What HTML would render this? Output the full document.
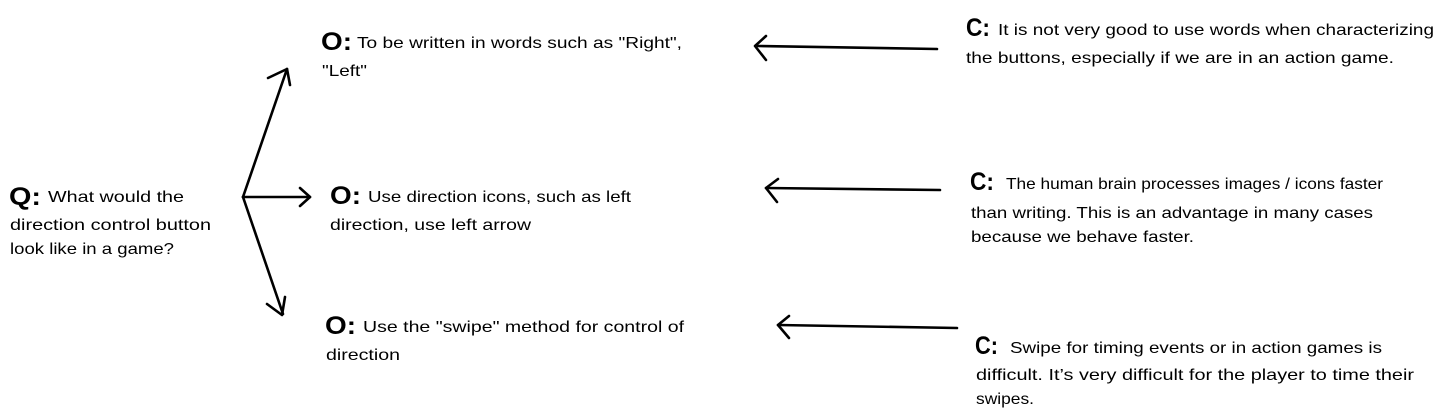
<!DOCTYPE html>
<html><head><meta charset="utf-8"><style>
html,body{margin:0;padding:0;background:#fff;}
svg{display:block}
text{font-family:"Liberation Sans",sans-serif;fill:#000;font-size:16px}
.b{font-weight:bold;font-size:25px}
.cb{font-weight:bold;font-size:25px}
</style></head><body>
<svg width="1439" height="418" viewBox="0 0 1439 418" xmlns="http://www.w3.org/2000/svg">
<g stroke="#000" stroke-width="2.6" fill="none" stroke-linecap="round" stroke-linejoin="round">
<line x1="243" y1="197" x2="287" y2="69"/>
<polyline points="268,78 287,69 290,85"/>
<line x1="243" y1="197" x2="310" y2="197"/>
<polyline points="300,188 310,197 300,206"/>
<line x1="243" y1="197" x2="283" y2="314"/>
<polyline points="267,304 282,315 285,297"/>
<line x1="937" y1="49" x2="758" y2="46"/>
<polyline points="766,36 755,46 766,60"/>
<line x1="940" y1="190" x2="766" y2="188"/>
<polyline points="778,179 766,188 777,202"/>
<line x1="957" y1="328" x2="778" y2="325"/>
<polyline points="789,316 778,325 789,338"/>
</g>
<text class="b" x="9" y="205" textLength="32" lengthAdjust="spacingAndGlyphs">Q:</text>
<text x="48" y="202" textLength="136" lengthAdjust="spacingAndGlyphs">What would the</text>
<text x="10" y="230" textLength="201" lengthAdjust="spacingAndGlyphs">direction control button</text>
<text x="10" y="254" textLength="164" lengthAdjust="spacingAndGlyphs">look like in a game?</text>

<text class="b" x="321" y="50" textLength="31" lengthAdjust="spacingAndGlyphs">O:</text>
<text x="357" y="48" textLength="325" lengthAdjust="spacingAndGlyphs">To be written in words such as "Right",</text>
<text x="322" y="76" textLength="45" lengthAdjust="spacingAndGlyphs">"Left"</text>

<text class="b" x="330" y="204" textLength="31" lengthAdjust="spacingAndGlyphs">O:</text>
<text x="368" y="202" textLength="263" lengthAdjust="spacingAndGlyphs">Use direction icons, such as left</text>
<text x="330" y="230" textLength="201" lengthAdjust="spacingAndGlyphs">direction, use left arrow</text>

<text class="b" x="325" y="334" textLength="31" lengthAdjust="spacingAndGlyphs">O:</text>
<text x="363" y="332" textLength="321" lengthAdjust="spacingAndGlyphs">Use the "swipe" method for control of</text>
<text x="326" y="360" textLength="74" lengthAdjust="spacingAndGlyphs">direction</text>

<text class="cb" x="966" y="36" textLength="24" lengthAdjust="spacingAndGlyphs">C:</text>
<text x="998" y="35" textLength="436" lengthAdjust="spacingAndGlyphs">It is not very good to use words when characterizing</text>
<text x="966" y="63" textLength="428" lengthAdjust="spacingAndGlyphs">the buttons, especially if we are in an action game.</text>

<text class="cb" x="970" y="190" textLength="24" lengthAdjust="spacingAndGlyphs">C:</text>
<text x="1006" y="189" textLength="377" lengthAdjust="spacingAndGlyphs">The human brain processes images / icons faster</text>
<text x="971" y="218" textLength="402" lengthAdjust="spacingAndGlyphs">than writing. This is an advantage in many cases</text>
<text x="971" y="242" textLength="223" lengthAdjust="spacingAndGlyphs">because we behave faster.</text>

<text class="cb" x="975" y="354" textLength="23" lengthAdjust="spacingAndGlyphs">C:</text>
<text x="1010" y="353" textLength="372" lengthAdjust="spacingAndGlyphs">Swipe for timing events or in action games is</text>
<text x="976" y="380" textLength="438" lengthAdjust="spacingAndGlyphs">difficult. It’s very difficult for the player to time their</text>
<text x="976" y="404" textLength="58" lengthAdjust="spacingAndGlyphs">swipes.</text>
</svg>
</body></html>
